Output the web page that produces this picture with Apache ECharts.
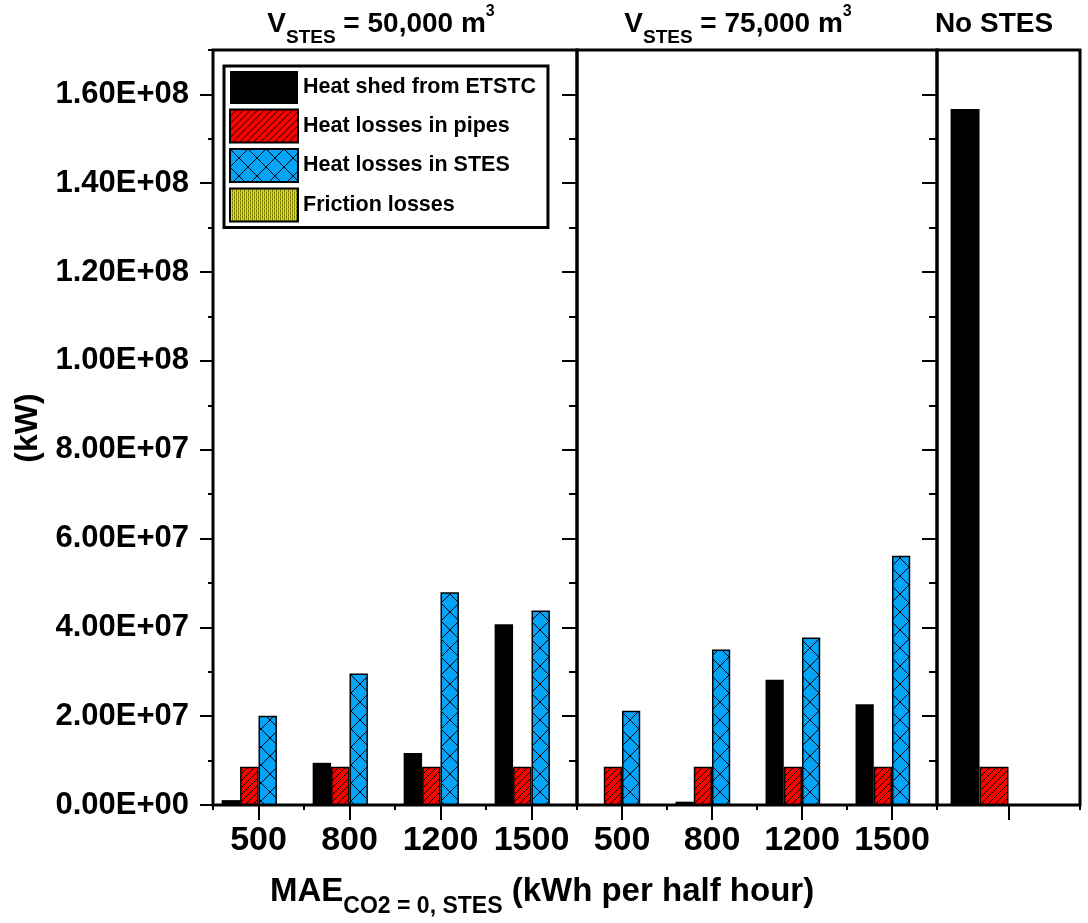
<!DOCTYPE html>
<html>
<head>
<meta charset="utf-8">
<script src="https://cdn.jsdelivr.net/npm/echarts@6/dist/echarts.min.js"></script>
<style>
  html, body { margin: 0; padding: 0; background: #fff; }
  #chart { width: 1088px; height: 923px; }
</style>
</head>
<body>
<div id="chart"></div>
<script>
// ---- data ----
const categories = ['500', '800', '1200', '1500'];
const noStesCategory = [''];
const seriesNames = ['Heat shed from ETSTC', 'Heat losses in pipes', 'Heat losses in STES', 'Friction losses'];

// V_STES = 50,000 m3
const shed50 = [1.1e6, 9.5e6, 11.7e6, 40.7e6];
const pipes50 = [8.6e6, 8.6e6, 8.6e6, 8.6e6];
const stes50 = [20.1e6, 29.6e6, 47.9e6, 43.8e6];
const friction50 = [0, 0, 0, 0];

// V_STES = 75,000 m3
const shed75 = [0, 0.75e6, 28.2e6, 22.7e6];
const pipes75 = [8.6e6, 8.6e6, 8.6e6, 8.6e6];
const stes75 = [21.2e6, 35.0e6, 37.7e6, 56.1e6];
const friction75 = [0, 0, 0, 0];

// No STES
const shedNone = [156.7e6];
const pipesNone = [8.6e6];
const stesNone = [0];
const frictionNone = [0];

const majorTicks = [0, 2e7, 4e7, 6e7, 8e7, 1e8, 1.2e8, 1.4e8, 1.6e8];
const yMax = 1.7e8;

// ---- styling ----
const F = '"Liberation Sans", Arial, Helvetica, sans-serif';

function makeCanvas(w, h) {
  const c = document.createElement('canvas');
  c.width = w; c.height = h;
  return c;
}
function hatchFill() {
  const s = 7, c = makeCanvas(s, s), g = c.getContext('2d');
  g.fillStyle = '#FF0000'; g.fillRect(0, 0, s, s);
  g.strokeStyle = '#000'; g.lineWidth = 1;
  g.beginPath();
  [-s, 0, s].forEach(o => { g.moveTo(o, s); g.lineTo(o + s, 0); });
  g.stroke();
  return { image: c, repeat: 'repeat' };
}
function crossFill() {
  const s = 18, c = makeCanvas(s, s), g = c.getContext('2d');
  g.fillStyle = '#03A3F8'; g.fillRect(0, 0, s, s);
  g.strokeStyle = '#000'; g.lineWidth = 1;
  g.beginPath();
  g.moveTo(0, 0); g.lineTo(s, s);
  g.moveTo(s, 0); g.lineTo(0, s);
  g.stroke();
  return { image: c, repeat: 'repeat' };
}
function dotFill() {
  const c = makeCanvas(4, 4), g = c.getContext('2d');
  g.fillStyle = '#E2E200'; g.fillRect(0, 0, 4, 4);
  g.fillStyle = '#000';
  g.fillRect(0, 0, 1, 1); g.fillRect(2, 2, 1, 1);
  g.fillStyle = '#6B6B00';
  g.fillRect(2, 0, 1, 1); g.fillRect(0, 2, 1, 1);
  return { image: c, repeat: 'repeat' };
}

const seriesStyles = [
  { color: '#000000', borderWidth: 0 },
  { color: hatchFill(), borderColor: '#000', borderWidth: 1.5 },
  { color: crossFill(), borderColor: '#000', borderWidth: 1.5 },
  { color: dotFill(), borderColor: '#000', borderWidth: 1.5 }
];

function sci(v) {
  const [m, e] = Number(v).toExponential(2).split('e');
  const sign = e[0] === '-' ? '-' : '+';
  const digits = e.replace(/^[+-]/, '').padStart(2, '0');
  return m + 'E' + sign + digits;
}

const tickLine = { color: '#000', width: 2 };

// ---- layout: three panels sharing one value scale ----
const grids = [
  { left: 213, right: 511, top: 50, bottom: 118 },
  { left: 577, right: 151, top: 50, bottom: 118 },
  { left: 937, right: 8, top: 50, bottom: 118 }
].map(g => Object.assign(g, { show: true, borderColor: '#000', borderWidth: 3, backgroundColor: 'transparent' }));

function xPair(gridIndex, cats) {
  return [
    {
      type: 'category', gridIndex, data: cats, position: 'bottom', boundaryGap: true,
      axisLine: { show: false, onZero: false },
      axisTick: { show: true, interval: 0, length: 5, lineStyle: tickLine },
      axisLabel: { show: false }, splitLine: { show: false }
    },
    {
      type: 'category', gridIndex, data: cats, position: 'bottom', boundaryGap: true,
      axisLine: { show: false, onZero: false },
      axisTick: { show: true, interval: 0, alignWithLabel: true, length: 15, lineStyle: tickLine },
      axisLabel: { show: true, interval: 0, margin: 19, color: '#000', fontSize: 34, fontWeight: 'bold', fontFamily: F },
      splitLine: { show: false }
    }
  ];
}

function yAx(gridIndex, position, extra) {
  return Object.assign({
    type: 'value', gridIndex, position, min: 0, max: yMax,
    axisLine: { show: false, onZero: false },
    splitLine: { show: false },
    axisLabel: { show: false },
    axisTick: { show: false }
  }, extra);
}

const minorLeft = { interval: 1e7, axisTick: { show: true, length: 5, lineStyle: tickLine } };
const majorLeft = {
  interval: 2e7,
  axisTick: { show: true, length: 13, customValues: majorTicks, lineStyle: tickLine },
  axisLabel: {
    show: true, customValues: majorTicks, margin: 24, color: '#000',
    fontSize: 31, fontWeight: 'bold', fontFamily: F, formatter: v => sci(v)
  }
};
const minorRight = { interval: 1e7, axisTick: { show: true, inside: true, length: 8, lineStyle: tickLine } };
const majorRight = { interval: 2e7, axisTick: { show: true, inside: true, length: 15, customValues: majorTicks, lineStyle: tickLine } };

const xAxes = [].concat(xPair(0, categories), xPair(1, categories), xPair(2, noStesCategory));
const yAxes = [
  yAx(0, 'left', minorLeft),    // 0
  yAx(0, 'left', majorLeft),    // 1
  yAx(0, 'right', minorRight),  // 2
  yAx(0, 'right', majorRight),  // 3
  yAx(1, 'right', minorRight),  // 4
  yAx(1, 'right', majorRight),  // 5
  yAx(2, 'left', {})            // 6
];

const panels = [
  { xAxisIndex: 0, yAxisIndex: 0, values: [shed50, pipes50, stes50, friction50] },
  { xAxisIndex: 2, yAxisIndex: 4, values: [shed75, pipes75, stes75, friction75] },
  { xAxisIndex: 4, yAxisIndex: 6, values: [shedNone, pipesNone, stesNone, frictionNone] }
];

const series = [];
panels.forEach(p => {
  p.values.forEach((data, i) => {
    series.push({
      type: 'bar', name: seriesNames[i], data,
      xAxisIndex: p.xAxisIndex, yAxisIndex: p.yAxisIndex,
      barGap: '0%', barCategoryGap: '19%',
      itemStyle: seriesStyles[i],
      emphasis: { disabled: true }
    });
  });
});

// ---- titles and axis names ----
const titleRich = {
  m: { fontSize: 28, fontWeight: 'bold', fontFamily: F, lineHeight: 28, fill: '#000' },
  s: { fontSize: 19, fontWeight: 'bold', fontFamily: F, lineHeight: 19, padding: [28, 0, 0, 0], fill: '#000' },
  p: { fontSize: 16, fontWeight: 'bold', fontFamily: F, lineHeight: 16, padding: [0, 0, 25, 0], fill: '#000' }
};
function panelTitle(x, text) {
  return {
    type: 'text', x, y: 24, z: 10,
    style: { text, rich: titleRich, align: 'center', verticalAlign: 'middle', fill: '#000' }
  };
}

const graphic = [
  panelTitle(381, '{m|V}{s|STES}{m| = 50,000 m}{p|3}'),
  panelTitle(738, '{m|V}{s|STES}{m| = 75,000 m}{p|3}'),
  panelTitle(994, '{m|No STES}'),
  {
    type: 'text', x: 270, y: 892, z: 10,
    style: {
      text: '{m|MAE}{s|CO2 = 0, STES}{m| (kWh per half hour)}',
      align: 'left', verticalAlign: 'middle', fill: '#000',
      rich: {
        m: { fontSize: 33, fontWeight: 'bold', fontFamily: F, lineHeight: 33, fill: '#000' },
        s: { fontSize: 23, fontWeight: 'bold', fontFamily: F, lineHeight: 23, padding: [30, 0, 0, 0], fill: '#000' }
      }
    }
  },
  {
    type: 'text', x: 28, y: 428, rotation: Math.PI / 2, z: 10,
    style: { text: '(kW)', font: 'bold 32px ' + F, align: 'center', verticalAlign: 'middle', fill: '#000' }
  }
];

const chart = echarts.init(document.getElementById('chart'), null, { renderer: 'canvas' });
chart.setOption({
  animation: false,
  backgroundColor: '#fff',
  grid: grids,
  xAxis: xAxes,
  yAxis: yAxes,
  legend: {
    data: seriesNames,
    orient: 'vertical', left: 224, top: 66,
    icon: 'rect', itemWidth: 68, itemHeight: 33, itemGap: 4.5,
    padding: [5, 12, 5, 5],
    borderColor: '#000', borderWidth: 3, backgroundColor: '#fff',
    selectedMode: false,
    textStyle: { color: '#000', fontSize: 21.5, fontWeight: 'bold', fontFamily: F }
  },
  series,
  graphic
});
</script>
</body>
</html>
